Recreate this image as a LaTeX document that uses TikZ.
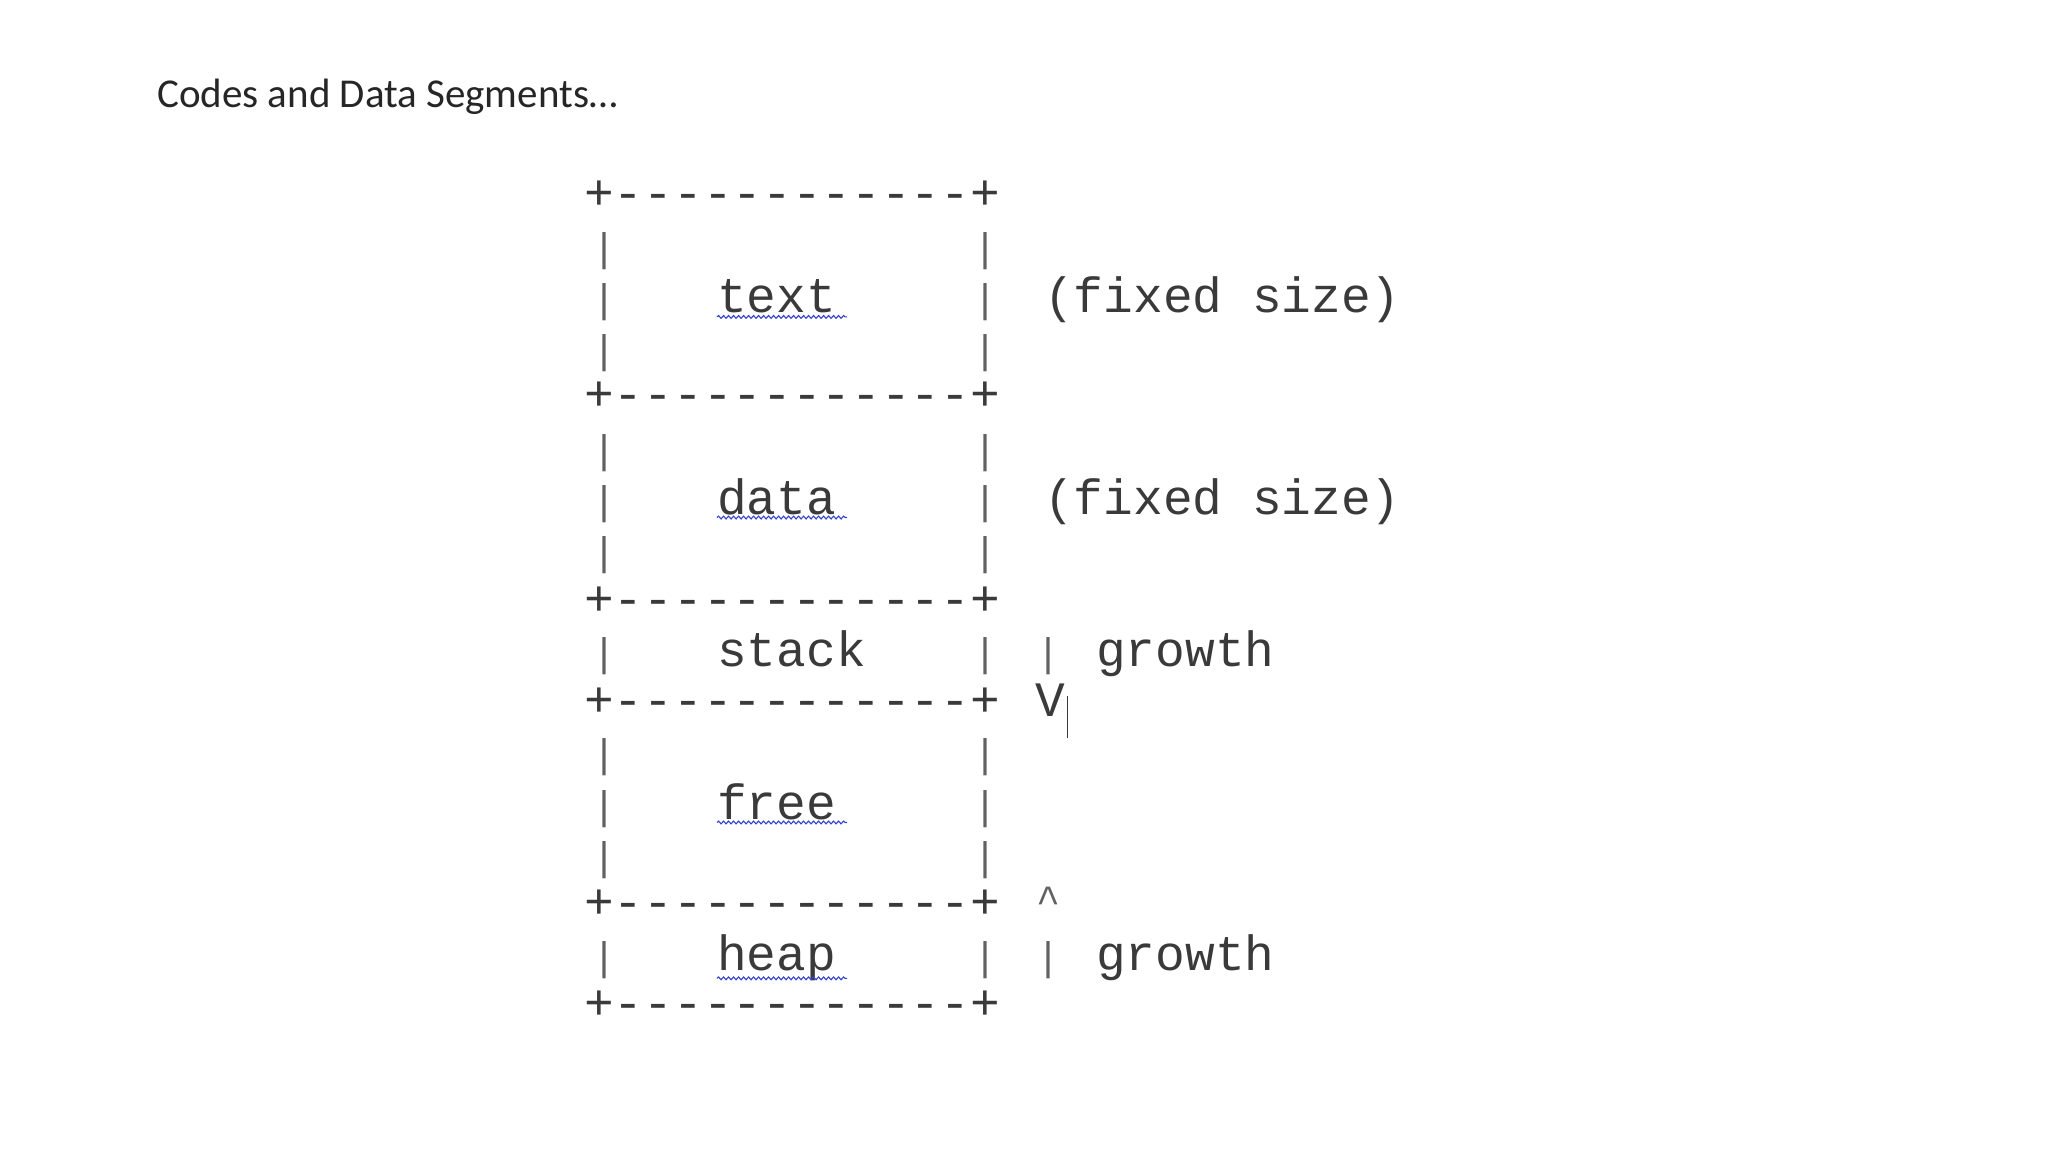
\documentclass[tikz,border=0pt]{standalone}
\usepackage{fontspec}
\newfontfamily\monofont{Liberation Mono}
\newfontfamily\titlefont{Carlito}
\usetikzlibrary{decorations.pathmorphing}
\definecolor{ink}{HTML}{3A3A3A}
\definecolor{spell}{HTML}{3344CC}
\begin{document}
\begin{tikzpicture}[x=1pt,y=-1pt,
  mono/.style={inner sep=0pt,anchor=mid west,text=ink,font=\monofont\fontsize{49.5}{52}\selectfont},
  bar/.style={inner sep=0pt,anchor=mid,text=ink!80,font=\monofont\fontsize{40}{42}\selectfont},
  wavy/.style={spell,line width=1.1pt,decorate,decoration={snake,segment length=5pt,amplitude=1.4pt}}]
\useasboundingbox[fill=white] (0,0) rectangle (2048,1152);
\node[inner sep=0pt,anchor=west,font=\titlefont\fontsize{41}{44}\selectfont,text=black!85] (title) at (157,97) {Codes and Data Segments…};
\begin{scope}[yshift=-13pt]
% borders
\foreach \y/\n in {194/b1,395/b2,600/b3,701/b4,903/b5,1004/b6}
  \node[mono] (\n) at (584,\y) {+------------+};
\foreach \y/\n in {246/p1,297/p2,348/p3,448/p4,499/p5,550/p6,651/p7,752/p8,804/p9,855/p10,955/p11}{
  \node[bar] (\n l) at (604,\y) {|};
  \node[bar] (\n r) at (985,\y) {|};
}
% labels
\node[mono] (text) at (717,297) {text};
\node[mono] (data) at (717,499) {data};
\node[mono] (stack) at (717,651) {stack};
\node[mono] (free) at (717,804) {free};
\node[mono] (heap) at (717,955) {heap};
\foreach \n in {text,data,free,heap}
  \draw[wavy] ([yshift=-21pt]\n.west) -- ++(130,0);
\node[mono] (fs1) at (1044,297) {(fixed size)};
\node[mono] (fs2) at (1044,499) {(fixed size)};
\node[bar] (g1bar) at (1048,651) {|};
\node[mono] (g1) at (1096,651) {growth};
\node[mono] (vee) at (1035,701) {V};
\coordinate (cur) at (1067,683);
\draw[ink,line width=1pt] (cur) -- ++(0,42);
\node[bar] (caret) at (1048,898) {\^{}};
\node[bar] (g2bar) at (1048,955) {|};
\node[mono] (g2) at (1096,955) {growth};
\end{scope}
\end{tikzpicture}
\end{document}
